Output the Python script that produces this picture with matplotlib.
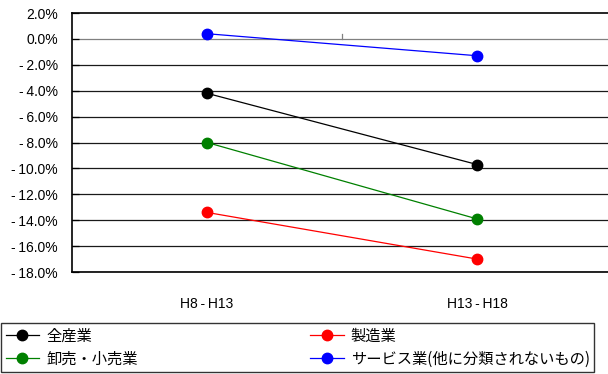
import matplotlib
matplotlib.use("Agg")
import matplotlib.pyplot as plt

plt.rcParams['font.family'] = ['Liberation Sans', 'Noto Sans CJK JP', 'DejaVu Sans']

periods = ["H8\u2009-\u2009H13", "H13\u2009-\u2009H18"]
series_names = ["全産業", "製造業", "卸売・小売業", "サービス業(他に分類されないもの)"]
all_industries = [-4.2, -9.7]
manufacturing = [-13.4, -17.0]
wholesale_retail = [-8.0, -13.9]
services = [0.4, -1.3]
colors = ["#000000", "#FF0000", "#008000", "#0000FF"]
y_ticks = [2, 0, -2, -4, -6, -8, -10, -12, -14, -16, -18]

W, H = 608, 374
fig = plt.figure(figsize=(W / 100, H / 100), dpi=100)
ax = fig.add_axes([72 / W, (H - 272) / H, (612 - 72) / W, 259 / H])

xs = [0.5, 1.5]
values = [all_industries, manufacturing, wholesale_retail, services]
for name, vals, c in zip(series_names, values, colors):
    ax.plot(xs, vals, color=c, lw=0.9, marker="o", ms=7.5, mec=c, mfc=c,
            label=name, zorder=3)

ax.set_xlim(0, 2)
ax.set_ylim(-18, 2)
ax.set_yticks(y_ticks)
ax.set_yticklabels([("-\u2009" if t < 0 else "") + f"{abs(t):.1f}%" for t in y_ticks],
                   fontsize=10)
for t in y_ticks[1:]:
    ax.axhline(t, color="#1a1a1a" if t != 0 else "#808080", lw=0.9, zorder=1)
# category boundary tick on the zero line
ax.plot([1, 1], [0, 0.4], color="#808080", lw=0.9, zorder=2)

ax.set_xticks(xs)
ax.set_xticklabels(periods, fontsize=10)
ax.tick_params(axis="x", length=0, pad=18)
ax.tick_params(axis="y", direction="in", length=5, width=0.9, pad=10)
for s in ["top", "left", "bottom"]:
    ax.spines[s].set_color("black")
    ax.spines[s].set_linewidth(1.2)
ax.spines["right"].set_visible(False)

# legend: columns read 全産業/卸売・小売業 and 製造業/サービス業
h, l = ax.get_legend_handles_labels()
order = [0, 2, 1, 3]
leg = fig.legend([h[i] for i in order], [l[i] for i in order],
                 loc="upper left", ncol=2,
                 bbox_to_anchor=(1 / W, 1 - 323 / H),
                 frameon=True, fancybox=False, edgecolor="black",
                 handlelength=2.2, handletextpad=0.45, labelspacing=0.4,
                 columnspacing=11.3, borderpad=0.3, borderaxespad=0,
                 prop={"family": ["Noto Sans CJK JP", "DejaVu Sans"], "size": 11})
leg.get_frame().set_linewidth(1.0)

fig.savefig("out.png", dpi=100)
